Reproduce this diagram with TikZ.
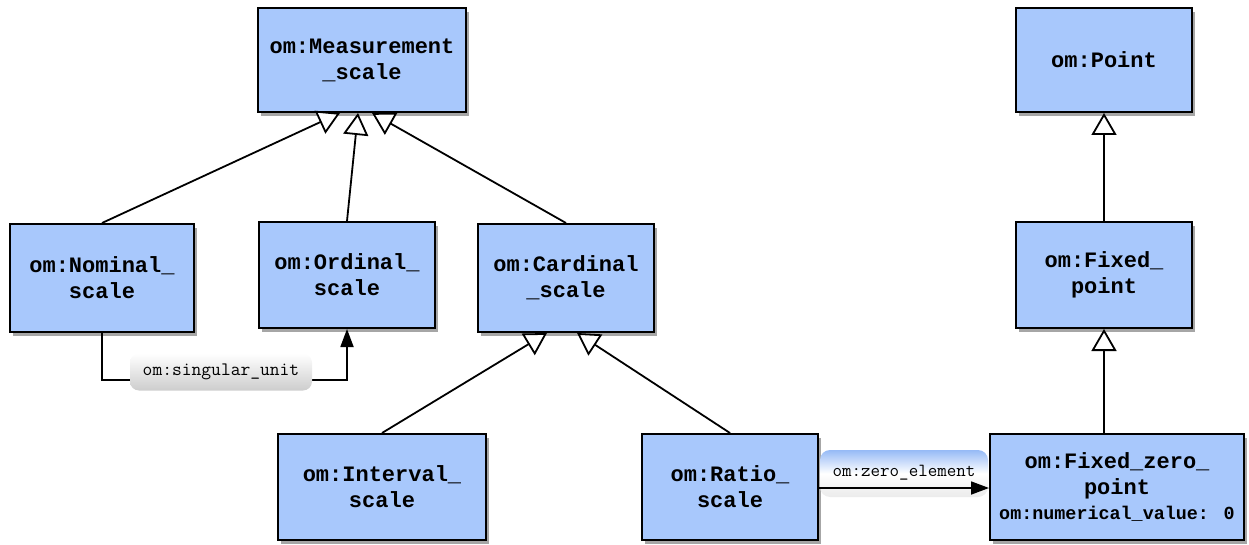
\documentclass[tikz,border=0pt]{standalone}
\usepackage{fontspec}
\newfontfamily\monofont{Liberation Mono}
\usetikzlibrary{arrows.meta,shadows,positioning,calc}
\definecolor{classblue}{RGB}{168,200,252}
\definecolor{labelblue}{RGB}{150,186,246}
\definecolor{labelgray}{RGB}{205,205,205}
\tikzset{
  cls/.style={draw=black, line width=2pt, fill=classblue, align=center,
    font=\monofont\bfseries\fontsize{22}{26}\selectfont,
    inner sep=0pt,
    drop shadow={shadow xshift=3pt, shadow yshift=-4pt, opacity=0.35, fill=black}},
  isa/.style={line width=1.8pt, -{Triangle[fill=white, length=22pt, width=25pt, line width=1.8pt]}},
  assoc/.style={line width=1.8pt, -{Triangle[length=18pt, width=13pt]}},
  rellabel/.style={font=\ttfamily\fontsize{19}{20}\selectfont, rounded corners=9pt,
    inner sep=0pt, minimum height=37pt},
}
\begin{document}
\begin{tikzpicture}[x=1pt, y=-1pt]
\useasboundingbox (0,0) rectangle (1249,545);

% classes
\node[cls, minimum width=208pt, minimum height=104pt] (meas) at (362,60) {om:Measurement\\\_scale};
\node[cls, minimum width=176pt, minimum height=104pt] (point) at (1104,60) {om:Point};
\node[cls, minimum width=184pt, minimum height=108pt] (nom) at (102,278) {om:Nominal\_\\scale};
\node[cls, minimum width=176pt, minimum height=106pt] (ord) at (347,275) {om:Ordinal\_\\scale};
\node[cls, minimum width=176pt, minimum height=108pt] (card) at (566,278) {om:Cardinal\\\_scale};
\node[cls, minimum width=176pt, minimum height=106pt] (fixp) at (1104,275) {om:Fixed\_\\point};
\node[cls, minimum width=208pt, minimum height=106pt] (int) at (382,487) {om:Interval\_\\scale};
\node[cls, minimum width=176pt, minimum height=106pt] (ratio) at (730,487) {om:Ratio\_\\scale};
\node[cls, minimum width=254pt, minimum height=106pt] (fzp) at (1117,487)
  {om:Fixed\_zero\_\\point\\[-1pt]{\fontsize{18.4}{20}\selectfont om:numerical\_value: 0}};

% generalisation links
\draw[isa] (nom.north) -- ($(meas.south)+(-22,0)$);
\draw[isa] (card.north) -- ($(meas.south)+(10,0)$);
\draw[isa] (ord.north) -- ($(meas.south)+(-4,0)$);
\draw[isa] (int.north) -- ($(card.south)+(-19,0)$);
\draw[isa] (ratio.north) -- ($(card.south)+(11,0)$);
\draw[isa] (fixp.north) -- (point.south);
\draw[isa] (fzp.north -| fixp.south) -- (fixp.south);

% associations
\node[rellabel, top color=labelblue, bottom color=labelgray!40, middle color=white,
  rounded corners=10pt, minimum width=168pt, minimum height=47pt] (ze) at (904,473.5) {};
\node[font=\ttfamily\fontsize{18.5}{20}\selectfont, anchor=base] (zet) at (904,476) {om:zero\_element};
\draw[assoc] (ratio.east |- 0,488) -- (fzp.west |- 0,488);

\draw[assoc] (nom.south) -- (102,380) -| (ord.south);
\node[rellabel, top color=white, bottom color=labelgray, minimum width=182pt] (su) at (221,372) {om:singular\_unit};
\end{tikzpicture}
\end{document}
